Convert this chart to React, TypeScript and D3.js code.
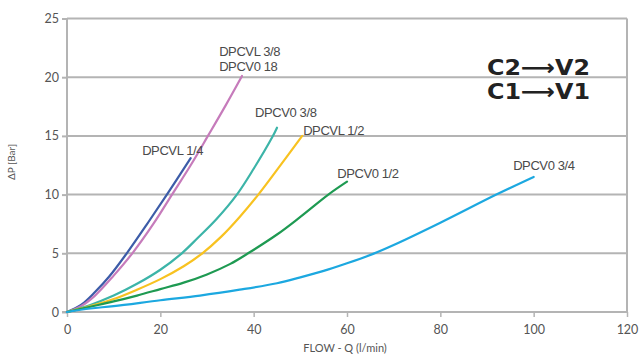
import * as d3 from 'd3';
import { useEffect, useRef } from 'react';

// flow (l/min) and pressure drop (bar)
const dpcvl14Q = [0, 3, 6, 9, 12.8, 17, 21.4, 26.5];
const dpcvl14P = [0, 0.6, 1.7, 3.0, 5, 7.4, 10, 13.1];

const dpcvl38Q = [0, 3, 6, 10, 14, 18.5, 22.5, 26.5, 30.2, 34, 37.5];
const dpcvl38P = [0, 0.5, 1.4, 3.1, 5, 7.5, 10, 12.5, 15, 17.6, 20.1];

const dpcv038Q = [0, 5, 10, 15, 20, 24.6, 28, 32, 36.4, 40, 44, 45];
const dpcv038P = [0, 0.6, 1.4, 2.4, 3.6, 5, 6.3, 7.9, 10, 12.2, 14.9, 15.7];

const dpcvl12Q = [0, 5, 10, 15, 20, 25, 29, 33, 37, 41, 45, 50.4];
const dpcvl12P = [0, 0.5, 1.1, 1.9, 2.8, 3.9, 5, 6.4, 8.1, 10, 12.1, 15];

const dpcv012Q = [0, 5, 10, 15, 20, 25, 30, 35, 38.8, 45, 50, 56, 60];
const dpcv012P = [0, 0.45, 0.9, 1.4, 1.95, 2.5, 3.2, 4.1, 5, 6.6, 8.1, 10, 11.1];

const dpcv034Q = [0, 5, 10, 20, 28.5, 37, 45, 50, 55, 60, 65.6, 70, 80, 92, 100];
const dpcv034P = [0, 0.3, 0.5, 1, 1.4, 1.9, 2.45, 2.95, 3.5, 4.15, 4.95, 5.7, 7.6, 10, 11.5];

const xTicks = [0, 20, 40, 60, 80, 100, 120];
const yTicks = [0, 5, 10, 15, 20, 25];

const series = [
  { name: 'DPCVL 1/4', q: dpcvl14Q, p: dpcvl14P, color: '#3c5ca8' },
  { name: 'DPCVL 3/8', q: dpcvl38Q, p: dpcvl38P, color: '#c67bbb' },
  { name: 'DPCV0 3/8', q: dpcv038Q, p: dpcv038P, color: '#3cb4a8' },
  { name: 'DPCVL 1/2', q: dpcvl12Q, p: dpcvl12P, color: '#f8c220' },
  { name: 'DPCV0 1/2', q: dpcv012Q, p: dpcv012P, color: '#1e9a52' },
  { name: 'DPCV0 3/4', q: dpcv034Q, p: dpcv034P, color: '#1ca8e0' },
];

// curve labels: text lines and left anchor in data units
const labels = [
  { lines: ['DPCVL 1/4'], q: 16.1, p: 13.4 },
  { lines: ['DPCVL 3/8', 'DPCV0 18'], q: 32.6, p: 21.8 },
  { lines: ['DPCV0 3/8'], q: 40.3, p: 16.6 },
  { lines: ['DPCVL 1/2'], q: 50.6, p: 15.1 },
  { lines: ['DPCV0 1/2'], q: 57.9, p: 11.4 },
  { lines: ['DPCV0 3/4'], q: 95.6, p: 12.1 },
];

const App = () => {
  const svgRef = useRef(null);

  useEffect(() => {
    const svg = d3.select(svgRef.current);
    svg.selectAll('*').remove();

    const left = 67, right = 627, top = 18.5, bottom = 312;

    const x = d3.scaleLinear().domain([0, 120]).range([left, right]);
    const y = d3.scaleLinear().domain([0, 25]).range([bottom, top]);

    svg.append('rect').attr('width', 642).attr('height', 359).attr('fill', '#fff');

    // horizontal grid
    svg.append('g')
      .selectAll('line')
      .data(yTicks.filter(d => d > 0))
      .enter()
      .append('line')
      .attr('x1', left)
      .attr('x2', right)
      .attr('y1', d => y(d))
      .attr('y2', d => y(d))
      .attr('stroke', '#b4b4b4')
      .attr('stroke-width', 2);

    // frame: left, right, bottom
    const frame = svg.append('g').attr('stroke', '#b4b4b4').attr('stroke-width', 2);
    frame.append('line').attr('x1', left).attr('x2', left).attr('y1', top).attr('y2', bottom);
    frame.append('line').attr('x1', right).attr('x2', right).attr('y1', top).attr('y2', bottom);
    frame.append('line').attr('x1', left - 5).attr('x2', right).attr('y1', bottom).attr('y2', bottom);

    // y ticks
    const yAxis = svg.append('g')
      .attr('transform', `translate(${left},0)`)
      .call(d3.axisLeft(y).tickValues(yTicks).tickSize(5).tickPadding(3));
    yAxis.select('.domain').remove();
    yAxis.selectAll('line').attr('stroke', '#b4b4b4').attr('stroke-width', 2);
    yAxis.selectAll('text')
      .style('font-family', 'Lato, sans-serif')
      .style('font-size', '12.5px')
      .attr('fill', '#555');

    // x ticks
    const xAxis = svg.append('g')
      .attr('transform', `translate(0,${bottom})`)
      .call(d3.axisBottom(x).tickValues(xTicks).tickSize(5).tickPadding(8));
    xAxis.select('.domain').remove();
    xAxis.selectAll('line').attr('stroke', '#b4b4b4').attr('stroke-width', 1.5);
    xAxis.selectAll('text')
      .style('font-family', 'Lato, sans-serif')
      .style('font-size', '12.5px')
      .attr('fill', '#555');

    // axis titles
    svg.append('text')
      .attr('x', 345)
      .attr('y', 352)
      .attr('text-anchor', 'middle')
      .style('font-family', 'Lato, sans-serif')
      .style('font-size', '11px')
      .attr('fill', '#555')
      .text('FLOW - Q (l/min)');

    svg.append('text')
      .attr('transform', 'translate(15,162) rotate(-90)')
      .attr('text-anchor', 'middle')
      .style('font-family', 'Lato, sans-serif')
      .style('font-size', '10px')
      .attr('fill', '#555')
      .text('ΔP [Bar]');

    // curves
    const line = d3.line<[number, number]>()
      .x(d => x(d[0]))
      .y(d => y(d[1]))
      .curve(d3.curveCatmullRom.alpha(0.5));

    svg.append('g')
      .selectAll('path')
      .data(series)
      .enter()
      .append('path')
      .attr('d', s => line(s.q.map((q, i) => [q, s.p[i]] as [number, number])))
      .attr('fill', 'none')
      .attr('stroke', s => s.color)
      .attr('stroke-width', 2.2)
      .attr('stroke-linecap', 'round');

    // curve labels
    const lab = svg.append('g')
      .selectAll('text')
      .data(labels)
      .enter()
      .append('text')
      .attr('x', d => x(d.q))
      .attr('y', d => y(d.p))
      .style('font-family', '"Liberation Sans", Arial, sans-serif')
      .style('font-size', '13px')
      .style('letter-spacing', '-0.4px')
      .attr('fill', '#4a4a4a');
    lab.selectAll('tspan')
      .data(d => d.lines.map((t, i) => ({ t, i, q: d.q })))
      .enter()
      .append('tspan')
      .attr('x', d => x(d.q))
      .attr('dy', d => (d.i === 0 ? 0 : 15))
      .text(d => d.t);

    // flow direction labels
    const dir = ['C2⟶V2', 'C1⟶V1'];
    svg.append('g')
      .selectAll('text')
      .data(dir)
      .enter()
      .append('text')
      .attr('x', 487)
      .attr('y', (d, i) => 75 + i * 24)
      .attr('textLength', 103)
      .attr('lengthAdjust', 'spacingAndGlyphs')
      .style('font-family', '"DejaVu Sans", sans-serif')
      .style('font-weight', 'bold')
      .style('font-size', '22px')
      .attr('fill', '#222')
      .text(d => d);
  }, []);

  return (
    <svg
      ref={svgRef}
      width={642}
      height={359}
      style={{ position: 'absolute', left: 0, top: 0 }}
    ></svg>
  );
};

export default App;
